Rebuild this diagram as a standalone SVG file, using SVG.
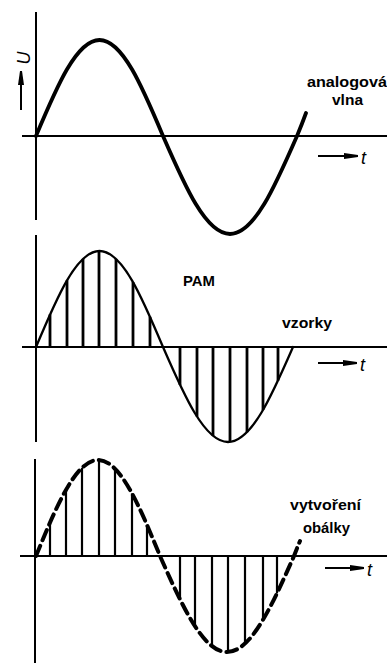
<svg xmlns="http://www.w3.org/2000/svg" width="387" height="663" viewBox="0 0 387 663">
<defs>
<style>
.ax{stroke:#000;stroke-width:2;fill:none}
.wave{stroke:#000;fill:none;stroke-linecap:round;stroke-linejoin:round}
.smp{stroke:#000;stroke-width:2.8;fill:none}
.lbl{font-family:"Liberation Sans",Arial,sans-serif;font-weight:bold;font-size:14px;fill:#000}
.var{font-family:"Liberation Sans",Arial,sans-serif;font-style:italic;font-size:18px;fill:#000}
.arr{stroke:#000;stroke-width:2;fill:none;marker-end:url(#ah)}
</style>
<marker id="ah" markerUnits="userSpaceOnUse" markerWidth="16" markerHeight="8" refX="14" refY="4" orient="auto">
<path d="M0,1 L14,3 L14,5 L0,7 Z" fill="#000"/>
</marker>
</defs>
<rect width="387" height="663" fill="#fff"/>

<g id="panel1">
<g id="axes1">
<line class="ax" x1="36" y1="12" x2="36" y2="220"/>
<line class="ax" x1="22" y1="136" x2="387" y2="136"/>
</g>
<path id="analog" class="wave" stroke-width="3.8" d="M36,136 C56.7,86.8 76.5,40 99.5,40 C122.5,40 142.3,86.8 163,136 C184.9,186.2 205.8,234 230,234 C254.2,234 275.1,186.2 297,136 Q302,124 306,113"/>
<g id="u-label">
<line class="arr" x1="21" y1="110" x2="21" y2="71"/>
<text class="var" font-size="16" text-anchor="middle" transform="translate(30,58) rotate(-90)">U</text>
</g>
<g id="t1">
<line class="arr" x1="318" y1="156" x2="358" y2="156"/>
<text class="var" x="361" y="164">t</text>
</g>
<g id="lbl1">
<text class="lbl" x="307" y="87" textLength="80" lengthAdjust="spacingAndGlyphs">analogová</text>
<text class="lbl" x="332" y="105" textLength="31" lengthAdjust="spacingAndGlyphs">vlna</text>
</g>
</g>

<g id="panel2">
<g id="axes2">
<line class="ax" x1="36" y1="235" x2="36" y2="442"/>
<line class="ax" x1="22" y1="347" x2="387" y2="347"/>
</g>
<path id="pamwave" class="wave" stroke-width="2.3" d="M36,347 C56.7,297.8 76.5,251 99.5,251 C122.5,251 142.3,297.8 163,347 C184.2,395.7 204.5,442 228,442 C251.5,442 271.8,395.7 293,347"/>
<g id="samples2" class="smp">
<line x1="50" y1="347" x2="50" y2="314.4"/>
<line x1="67" y1="347" x2="67" y2="280.4"/>
<line x1="83" y1="347" x2="83" y2="258.9"/>
<line x1="99" y1="347" x2="99" y2="251"/>
<line x1="116" y1="347" x2="116" y2="258.9"/>
<line x1="133" y1="347" x2="133" y2="282.1"/>
<line x1="150" y1="347" x2="150" y2="316.7"/>
<line x1="180" y1="347" x2="180" y2="384.9"/>
<line x1="197" y1="347" x2="197" y2="416.6"/>
<line x1="213" y1="347" x2="213" y2="435.8"/>
<line x1="230" y1="347" x2="230" y2="441.9"/>
<line x1="247" y1="347" x2="247" y2="432.2"/>
<line x1="263" y1="347" x2="263" y2="410"/>
<line x1="278" y1="347" x2="278" y2="380.7"/>
</g>
<g id="t2">
<line class="arr" x1="318" y1="363" x2="357" y2="363"/>
<text class="var" x="360" y="371">t</text>
</g>
<g id="lbl2">
<text class="lbl" x="183" y="286" font-size="15" textLength="32" lengthAdjust="spacingAndGlyphs">PAM</text>
<text class="lbl" x="282" y="328" textLength="50" lengthAdjust="spacingAndGlyphs">vzorky</text>
</g>
</g>

<g id="panel3">
<g id="axes3">
<line class="ax" x1="35" y1="459" x2="35" y2="663"/>
<line class="ax" x1="20" y1="556" x2="387" y2="556"/>
</g>
<path id="envelope" class="wave" stroke-width="4" stroke-linecap="butt" stroke-dasharray="11 6" d="M36,556 C56.2,506.8 75.6,460 98,460 C120.4,460 139.8,506.8 160,556 C181.9,605.2 202.8,652 227,652 C251.2,652 272.1,605.2 294,556 Q297,548 300,541"/>
<g id="samples3" class="smp" style="stroke-width:2.2">
<line x1="50" y1="556" x2="50" y2="522.7"/>
<line x1="66" y1="556" x2="66" y2="489.9"/>
<line x1="82" y1="556" x2="82" y2="467.8"/>
<line x1="99" y1="556" x2="99" y2="460"/>
<line x1="115" y1="556" x2="115" y2="468.8"/>
<line x1="132" y1="556" x2="132" y2="493.4"/>
<line x1="147" y1="556" x2="147" y2="525"/>
<line x1="180" y1="556" x2="180" y2="599.4"/>
<line x1="195" y1="556" x2="195" y2="626.2"/>
<line x1="212" y1="556" x2="212" y2="646.1"/>
<line x1="228" y1="556" x2="228" y2="652"/>
<line x1="245" y1="556" x2="245" y2="643.6"/>
<line x1="263" y1="556" x2="263" y2="619.8"/>
<line x1="277" y1="556" x2="277" y2="593.3"/>
</g>
<g id="t3">
<line class="arr" x1="325" y1="568" x2="364" y2="568"/>
<text class="var" x="367" y="576">t</text>
</g>
<g id="lbl3">
<text class="lbl" x="290" y="510" textLength="71" lengthAdjust="spacingAndGlyphs">vytvoření</text>
<text class="lbl" x="303" y="533" textLength="47" lengthAdjust="spacingAndGlyphs">obálky</text>
</g>
</g>
</svg>
